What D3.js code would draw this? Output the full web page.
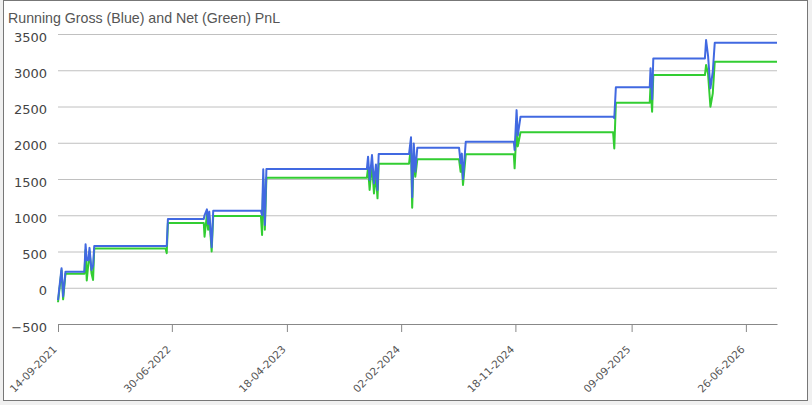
<!DOCTYPE html>
<html>
<head>
<meta charset="utf-8">
<script src="https://cdn.jsdelivr.net/npm/d3@7"></script>
<style>
  body { margin: 0; background: #f0f0f0; }
  svg { display: block; }
</style>
</head>
<body>
<svg id="chart"></svg>
<script>
const WIDTH = 812;
const HEIGHT = 405;
const MARGIN = {top: 34, right: 35, bottom: 81, left: 58};
const GROSS_COLOR = '#4169e1';
const NET_COLOR = '#32cd32';

// dates of the running PnL samples
const dates = [
  '2021-09-14', '2021-09-23', '2021-09-27', '2021-10-03', '2021-11-20', '2021-11-23',
  '2021-11-26', '2021-11-30', '2021-12-03', '2021-12-08', '2021-12-12', '2021-12-15',
  '2022-06-14', '2022-06-17', '2022-06-20', '2022-09-19', '2022-09-21', '2022-09-27',
  '2022-09-30', '2022-10-03', '2022-10-09', '2022-10-13', '2023-02-11', '2023-02-14',
  '2023-02-17', '2023-02-21', '2023-02-25', '2023-11-07', '2023-11-10', '2023-11-14',
  '2023-11-20', '2023-11-25', '2023-11-30', '2023-12-04', '2023-12-07', '2024-02-22',
  '2024-02-27', '2024-03-01', '2024-03-05', '2024-03-09', '2024-03-14', '2024-06-28',
  '2024-07-02', '2024-07-05', '2024-07-08', '2024-07-15', '2024-11-14', '2024-11-16',
  '2024-11-21', '2024-11-24', '2024-12-01', '2025-07-24', '2025-07-27', '2025-07-31',
  '2025-10-25', '2025-10-27', '2025-10-31', '2025-11-03', '2026-03-14', '2026-03-17',
  '2026-03-22', '2026-03-28', '2026-04-03', '2026-04-08', '2026-09-13'
];

const gross = [
  -170, 270, -120, 222, 222, 600,
  380, 380, 550, 245, 300, 575,
  575, 575, 948, 948, 1000, 1082,
  880, 1050, 560, 1063, 1063, 1000,
  1634, 865, 1638, 1638, 1808, 1486,
  1831, 1440, 1700, 1350, 1844, 1844,
  2075, 1250, 1990, 1600, 1931, 1931,
  1716, 1850, 1500, 2014, 2014, 1900,
  2450, 2100, 2360, 2360, 2340, 2765,
  2765, 3027, 2600, 3163, 3163, 3416,
  3200, 2750, 2980, 3380, 3380
];

const net = [
  -200, 240, -160, 194, 194, 520,
  100, 330, 500, 200, 107, 540,
  540, 475, 893, 893, 705, 1010,
  800, 980, 500, 990, 990, 727,
  1500, 800, 1518, 1518, 1650, 1350,
  1700, 1300, 1560, 1233, 1711, 1711,
  1950, 1104, 1850, 1531, 1771, 1771,
  1600, 1700, 1417, 1840, 1840, 1647,
  2200, 1950, 2144, 2144, 1922, 2552,
  2552, 2800, 2428, 2934, 2934, 3072,
  2950, 2497, 2682, 3118, 3118
];

const yTicks = [-500, 0, 500, 1000, 1500, 2000, 2500, 3000, 3500];
const xTickLabels = ['14-09-2021', '30-06-2022', '18-04-2023', '02-02-2024', '18-11-2024', '09-09-2025', '26-06-2026'];
const xDomain = ['2021-09-14', '2026-09-13'];

const parseIso = d3.timeParse('%Y-%m-%d');
const parseLabel = d3.timeParse('%d-%m-%Y');
const formatLabel = d3.timeFormat('%d-%m-%Y');

const data = dates.map((d, i) => ({ time: parseIso(d), gross: gross[i], net: net[i] }));

const svg = d3.select('#chart')
  .attr('width', WIDTH)
  .attr('height', HEIGHT);

// white panel with frame
svg.append('rect')
  .attr('x', 3.5).attr('y', 0.5)
  .attr('width', 804).attr('height', 400)
  .attr('fill', '#fff')
  .attr('stroke', '#777')
  .attr('stroke-width', 1);

svg.append('text')
  .attr('x', 8).attr('y', 23)
  .attr('fill', '#555')
  .style('font-family', 'Liberation Sans, Arial, sans-serif')
  .style('font-size', '14.2px')
  .text('Running Gross (Blue) and Net (Green) PnL');

const innerW = WIDTH - MARGIN.left - MARGIN.right;
const innerH = HEIGHT - MARGIN.top - MARGIN.bottom;

const g = svg.append('g')
  .attr('transform', 'translate(' + MARGIN.left + ',' + MARGIN.top + ')');

const x = d3.scaleTime()
  .domain(xDomain.map(parseIso))
  .range([0, innerW]);

const y = d3.scaleLinear()
  .domain([-500, 3500])
  .range([innerH, 0]);

/* grid + y labels */
const yAxis = g.append('g')
  .call(d3.axisLeft(y).tickValues(yTicks).tickSize(-innerW).tickPadding(11).tickFormat(d3.format('d')));
yAxis.select('.domain').remove();
yAxis.selectAll('.tick line').attr('stroke', '#c0c0c0');
yAxis.selectAll('.tick text')
  .attr('fill', '#444')
  .attr('dy', '0.55em')
  .style('font-family', 'DejaVu Sans, Verdana, sans-serif')
  .style('font-size', '13px');

/* x axis */
const xAxis = g.append('g')
  .attr('transform', 'translate(0,' + innerH + ')')
  .call(d3.axisBottom(x)
    .tickValues(xTickLabels.map(parseLabel))
    .tickSize(8)
    .tickSizeOuter(0)
    .tickFormat(formatLabel));
xAxis.select('.domain').attr('stroke', '#888');
xAxis.selectAll('.tick line').attr('stroke', '#888');
xAxis.selectAll('.tick text')
  .attr('fill', '#555')
  .style('font-family', 'DejaVu Sans, Verdana, sans-serif')
  .style('font-size', '10.5px')
  .attr('text-anchor', 'end')
  .attr('x', 0)
  .attr('y', 0)
  .attr('dy', '0')
  .attr('transform', 'translate(-1,26) rotate(-45)');

/* left end tick of x axis */
g.append('line')
  .attr('x1', 0.5).attr('x2', 0.5)
  .attr('y1', innerH).attr('y2', innerH + 8)
  .attr('stroke', '#888');

g.append('path')
  .datum(data)
  .attr('fill', 'none')
  .attr('stroke', NET_COLOR)
  .attr('stroke-width', 2)
  .attr('stroke-linejoin', 'round')
  .attr('d', d3.line()
    .x((d) => x(d.time))
    .y((d) => y(d.net)));

g.append('path')
  .datum(data)
  .attr('fill', 'none')
  .attr('stroke', GROSS_COLOR)
  .attr('stroke-width', 2)
  .attr('stroke-linejoin', 'round')
  .attr('d', d3.line()
    .x((d) => x(d.time))
    .y((d) => y(d.gross)));
</script>
</body>
</html>
